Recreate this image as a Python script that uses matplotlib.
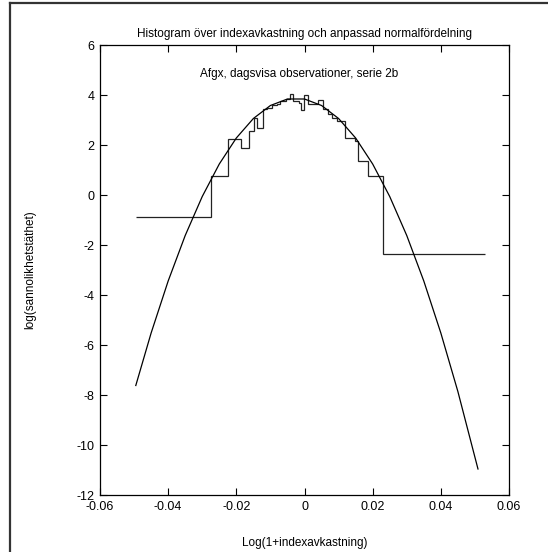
"""Histogram över indexavkastning med anpassad normalfördelning (log-skala)."""
import numpy as np
import matplotlib.pyplot as plt
from matplotlib.lines import Line2D

plt.rcParams["font.family"] = ["Liberation Sans", "DejaVu Sans"]

# histogram bins (Log(1+indexavkastning)) and log density per bin
bin_edges = [-0.0495, -0.0274, -0.0224, -0.0186, -0.0163, -0.0147, -0.0139,
             -0.0123, -0.0109, -0.0096, -0.0082, -0.0072, -0.0054, -0.0043,
             -0.0033, -0.0015, -0.0011, -0.0002, 0.0010, 0.0041, 0.0055,
             0.0070, 0.0080, 0.0095, 0.0119, 0.0148, 0.0158, 0.0187, 0.0230,
             0.0530]
bin_logdens = [-0.89, 0.75, 2.23, 1.88, 2.56, 3.10, 2.67, 3.45, 3.50, 3.60,
               3.65, 3.75, 3.85, 4.05, 3.75, 3.70, 3.42, 4.00, 3.66, 3.82,
               3.46, 3.25, 3.10, 2.98, 2.27, 2.15, 1.38, 0.77, -2.36]

# fitted normal density
curve_x = [-0.0495, -0.045, -0.040, -0.035, -0.030, -0.025, -0.020, -0.015,
           -0.010, -0.005, 0.000, 0.005, 0.010, 0.015, 0.020, 0.025, 0.030,
           0.035, 0.040, 0.045, 0.0509]
curve_y = [-7.62, -5.52, -3.44, -1.62, -0.06, 1.24, 2.28, 3.06, 3.58, 3.84,
           3.84, 3.58, 3.06, 2.28, 1.24, -0.06, -1.62, -3.44, -5.52, -7.86,
           -10.96]

xticks = [-0.06, -0.04, -0.02, 0.0, 0.02, 0.04, 0.06]
xtick_labels = ["-0.06", "-0.04", "-0.02", "0", "0.02", "0.04", "0.06"]
yticks = [6, 4, 2, 0, -2, -4, -6, -8, -10, -12]
ytick_labels = ["6", "4", "2", "0", "-2", "-4", "-6", "-8", "-10", "-12"]

fig = plt.figure(figsize=(5.48, 5.52), dpi=100)
ax = fig.add_axes([100 / 548, 1 - 495 / 552, 409 / 548, 450 / 552])

ax.stairs(bin_logdens, bin_edges, baseline=None, color="#222222", lw=0.9)
ax.plot(curve_x, curve_y, color="black", lw=0.9)

ax.set_xlim(-0.06, 0.06)
ax.set_ylim(-12, 6)
ax.set_xticks(xticks, xtick_labels)
ax.set_yticks(yticks, ytick_labels)
ax.tick_params(direction="in", top=True, right=True, length=5, labelsize=9,
               pad=4)
for s in ax.spines.values():
    s.set_linewidth(0.9)

ax.text(-0.0015, 4.85, "Afgx, dagsvisa observationer, serie 2b",
        ha="center", va="center", fontsize=8.5)
ax.set_title("Histogram över indexavkastning och anpassad normalfördelning",
             fontsize=8.5, pad=6)
ax.set_xlabel("Log(1+indexavkastning)", fontsize=8.5)
ax.set_ylabel("log(sannolikhetstäthet)", fontsize=8.5)
ax.xaxis.set_label_coords(0.5, -0.094)
ax.yaxis.set_label_coords(-0.155, 0.5)

# window frame left/top edge
fig.add_artist(Line2D([10 / 548, 1], [1 - 3 / 552, 1 - 3 / 552],
                      color="#333333", lw=1.6, transform=fig.transFigure))
fig.add_artist(Line2D([10 / 548, 10 / 548], [0, 1 - 3 / 552],
                      color="#333333", lw=1.6, transform=fig.transFigure))

fig.savefig("out.png", dpi=100)
